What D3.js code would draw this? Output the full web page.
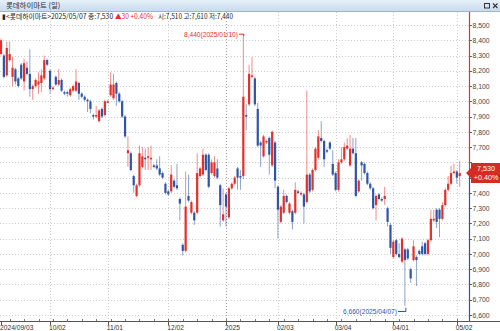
<!DOCTYPE html>
<html>
<head>
<meta charset="utf-8">
<script src="https://cdn.jsdelivr.net/npm/d3@7"></script>
<style>
body { margin: 0; background: #fff; }
svg { display: block; font-family: "Liberation Sans", Arial, sans-serif; }
</style>
</head>
<body>
<svg id="chart" width="500" height="331"></svg>
<script>
// daily candles, 2024/09/03 .. 2025/05/07 (160 trading days)
var opens = [8310,8300,8170,8270,8160,8210,8150,8240,8130,8220,
  8180,8080,8100,8110,8120,8150,8270,8200,8080,8160,
  8110,8140,8060,8060,8040,8070,8070,8120,8050,8030,
  8010,8000,7910,7900,7870,7950,7910,7990,8040,8020,
  8120,8050,8000,7900,7660,7660,7510,7380,7450,7570,
  7630,7630,7620,7580,7580,7560,7530,7460,7410,7410,
  7480,7450,7360,7060,7020,7380,7270,7270,7270,7510,
  7520,7650,7650,7530,7510,7560,7450,7220,7390,7240,
  7430,7460,7560,7510,7510,7910,7980,8160,8150,7950,
  7730,7640,7730,7760,7580,7730,7440,7210,7270,7380,
  7270,7280,7270,7410,7390,7390,7340,7520,7420,7550,
  7630,7760,7740,7680,7730,7590,7530,7420,7600,7620,
  7690,7580,7690,7660,7410,7600,7590,7530,7460,7430,
  7320,7390,7360,7360,7300,7190,6980,7090,7000,6950,
  7030,7030,6900,6960,6980,7020,7050,7070,7000,7090,
  7220,7290,7290,7230,7320,7420,7460,7530,7540,7510];
var highs = [8410,8310,8390,8390,8290,8220,8160,8250,8280,8260,
  8340,8110,8150,8190,8210,8300,8280,8210,8100,8170,
  8210,8150,8070,8070,8090,8110,8210,8130,8060,8040,
  8020,8010,7920,7970,7950,7960,8010,8010,8190,8180,
  8130,8060,8010,7910,7770,7670,7520,7460,7710,7700,
  7690,7700,7710,7590,7620,7640,7540,7470,7420,7580,
  7490,7590,7370,7070,7540,7520,7350,7280,7660,7570,
  7690,7660,7660,7620,7640,7620,7460,7430,7400,7440,
  7470,7510,7570,7550,8440,7980,8240,8290,8160,7990,
  7740,7780,7750,7770,7810,7740,7450,7320,7420,7390,
  7340,7290,7470,7420,7410,7400,8070,7530,7560,7700,
  7810,7870,7750,7690,7740,7680,7540,7620,7700,7730,
  7760,7780,7760,7760,7490,7610,7600,7540,7470,7440,
  7390,7400,7370,7440,7310,7200,7090,7100,7070,7110,
  7040,7040,6910,7090,6990,7030,7080,7080,7100,7290,
  7290,7300,7300,7340,7430,7510,7580,7590,7550,7610];
var lows = [8300,8150,8160,8260,8100,8110,8090,8140,8070,8170,
  8030,8010,8090,8050,8060,8140,8230,8050,8070,8100,
  8100,8060,8040,8030,8030,8060,8060,8010,8020,8000,
  7930,7920,7880,7890,7860,7890,7900,7990,8030,8010,
  7970,7990,7890,7760,7570,7540,7400,7370,7440,7560,
  7550,7550,7550,7560,7550,7510,7490,7390,7380,7400,
  7430,7420,7220,6990,7010,7340,7260,7190,7260,7500,
  7510,7540,7430,7520,7500,7490,7180,7210,7180,7230,
  7420,7450,7420,7420,7490,7810,7970,8150,7970,7700,
  7570,7630,7720,7520,7570,7430,7100,7200,7260,7330,
  7260,7160,7260,7390,7380,7200,7330,7400,7410,7540,
  7620,7730,7570,7660,7680,7510,7410,7410,7590,7610,
  7680,7570,7650,7370,7400,7480,7520,7450,7420,7290,
  7220,7350,7340,7320,7180,7000,6970,6990,6970,6940,
  6660,6960,6810,6950,6790,6990,6990,6990,6990,7080,
  7210,7170,7110,7220,7310,7410,7450,7520,7460,7440];
var closes = [8400,8160,8350,8310,8220,8130,8100,8150,8250,8180,
  8080,8100,8140,8130,8170,8270,8240,8080,8090,8110,
  8140,8070,8050,8050,8080,8100,8130,8050,8030,8010,
  8000,7950,7900,7910,7940,7900,8000,8000,8110,8110,
  8050,8000,7900,7770,7680,7550,7450,7450,7660,7640,
  7620,7640,7630,7570,7560,7520,7500,7400,7390,7520,
  7440,7430,7330,7020,7310,7350,7340,7220,7530,7560,
  7650,7550,7440,7600,7600,7500,7320,7260,7310,7430,
  7460,7500,7500,7500,8030,7900,8180,8170,7980,7710,
  7710,7770,7740,7650,7800,7480,7290,7310,7380,7340,
  7330,7210,7420,7400,7400,7310,7520,7410,7550,7690,
  7770,7740,7620,7670,7690,7520,7420,7600,7620,7700,
  7710,7690,7660,7380,7480,7580,7530,7460,7430,7300,
  7380,7360,7350,7380,7210,7040,7080,7000,6980,7100,
  6960,6970,6840,7050,6960,7000,7000,7000,7090,7230,
  7230,7210,7230,7320,7420,7460,7530,7540,7500,7530];

var tickIndex = [0, 17, 37, 58, 78, 96, 116, 136, 158];
var tickLabels = ['2024/09/03', '10/02', '11/01', '12/02', '2025', '02/03', '03/04', '04/01', '05/02'];
var priceTicks = [6600,6700,6800,6900,7000,7100,7200,7300,7400,7500,7600,7700,7800,7900,8000,8100,8200,8300,8400,8500];

var UP = '#e3302a', DOWN = '#2d56a8';
var plotRight = 469, plotTop = 11, plotBottom = 321;

var svg = d3.select('#chart');
var x = d3.scaleLinear().domain([0, closes.length - 1]).range([1, 459.7]);
var y = d3.scaleLinear().domain([6600, 8500]).range([315, 25]);

// squeeze a text horizontally to a given width (keeps the real bbox honest)
function squeeze(sel, x0, y0, w, anchorEnd) {
    sel.each(function () {
        var n = this.getComputedTextLength();
        var k = Math.min(1, w / n);
        var tx = anchorEnd ? x0 - n * k : x0;
        d3.select(this).attr('x', 0).attr('y', 0).attr('text-anchor', 'start')
            .attr('transform', 'translate(' + tx + ',' + y0 + ') scale(' + k + ',1)');
    });
}

// title bar
var grad = svg.append('defs').append('linearGradient')
    .attr('id', 'tb').attr('x1', 0).attr('y1', 0).attr('x2', 0).attr('y2', 1);
grad.append('stop').attr('offset', '0%').attr('stop-color', '#e6f0f9');
grad.append('stop').attr('offset', '100%').attr('stop-color', '#c8dbee');
svg.append('rect').attr('x', 0).attr('y', 0).attr('width', 500).attr('height', 11).attr('fill', 'url(#tb)');
svg.append('line').attr('x1', 0).attr('x2', 500).attr('y1', 11.5).attr('y2', 11.5).attr('stroke', '#9db5cd');
svg.append('text').attr('x', 6).attr('y', 7.9)
    .style('font-family', '"Noto Sans CJK KR"').style('font-size', '7.4px').attr('fill', '#1d2a3a')
    .text('롯데하이마트 (일)');
svg.append('rect').attr('x', 484.5).attr('y', 3.5).attr('width', 5).attr('height', 4.5)
    .attr('fill', 'none').attr('stroke', '#333');
svg.append('path').attr('d', 'M493,3.5L497.5,8M497.5,3.5L493,8').attr('stroke', '#333').attr('stroke-width', 1.1);

// header line, three pieces
var hdrParts = [
  {x: 2, w: 111, c: '#222', t: '▮<롯데하이마트>2025/05/07 종:7,530'},
  {x: 115, w: 38, c: UP, t: '▲30 +0.40%'},
  {x: 158, w: 75, c: '#222', t: '시:7,510 고:7,610 저:7,440'}
];
svg.append('g').selectAll('text').data(hdrParts).enter().append('text')
    .style('font-family', '"Noto Sans CJK KR"').style('font-size', '7.2px')
    .attr('fill', d => d.c)
    .text(d => d.t)
    .each(function (d) { squeeze(d3.select(this), d.x, 18.7, d.w, false); });

// grid
var grid = svg.append('g');
grid.selectAll('.hg').data(priceTicks).enter().append('line')
    .attr('x1', 0).attr('x2', plotRight)
    .attr('y1', d => Math.round(y(d)) + 0.5).attr('y2', d => Math.round(y(d)) + 0.5)
    .attr('stroke', '#cccccc').attr('stroke-dasharray', '1,2');
grid.selectAll('.vg').data(tickIndex.slice(1)).enter().append('line')
    .attr('x1', d => Math.round(x(d)) + 0.5).attr('x2', d => Math.round(x(d)) + 0.5)
    .attr('y1', plotTop + 1).attr('y2', plotBottom)
    .attr('stroke', (d, i) => tickLabels[i + 1] === '2025' ? '#9a9a9a' : '#cccccc')
    .attr('stroke-dasharray', '1,2');

// candles
svg.append('clipPath').attr('id', 'clip').append('rect')
    .attr('x', 0).attr('y', plotTop + 1).attr('width', plotRight).attr('height', plotBottom - plotTop - 1);
var candles = svg.append('g').attr('clip-path', 'url(#clip)')
    .selectAll('g').data(closes).enter().append('g');
candles.append('line')
    .attr('x1', (d, i) => x(i)).attr('x2', (d, i) => x(i))
    .attr('y1', (d, i) => y(highs[i])).attr('y2', (d, i) => y(lows[i]))
    .attr('stroke', (d, i) => d >= opens[i] ? UP : DOWN)
    .attr('stroke-opacity', 0.55).attr('stroke-width', 1);
candles.append('rect')
    .attr('x', (d, i) => x(i) - 1.1).attr('width', 2.2)
    .attr('y', (d, i) => y(Math.max(d, opens[i])))
    .attr('height', (d, i) => Math.max(1, Math.abs(y(d) - y(opens[i]))))
    .attr('fill', (d, i) => d >= opens[i] ? UP : DOWN);

// high / low marks
var hiIdx = d3.maxIndex(highs), loIdx = d3.minIndex(lows);
var hiY = y(highs[hiIdx]);
svg.append('text').attr('fill', UP).style('font-size', '7.4px')
    .text(d3.format(',')(highs[hiIdx]) + '(2025/01/10)')
    .call(squeeze, 238, hiY + 2.6, 54, true);
svg.append('path').attr('d', 'M239,' + hiY + 'H' + (x(hiIdx) + 0.5) + 'v2')
    .attr('fill', 'none').attr('stroke', UP);
var loY = y(lows[loIdx]);
svg.append('text').attr('fill', DOWN).style('font-size', '7.4px')
    .text(d3.format(',')(lows[loIdx]) + '(2025/04/07)')
    .call(squeeze, 397, 314.3, 54, true);
svg.append('path').attr('d', 'M398,311.5H' + (x(loIdx) + 1) + 'V' + (loY + 2))
    .attr('fill', 'none').attr('stroke', DOWN);

// right price axis
var last = closes[closes.length - 1], lastY = y(last);
svg.append('line').attr('x1', plotRight + 0.5).attr('x2', plotRight + 0.5)
    .attr('y1', plotTop + 1).attr('y2', lastY).attr('stroke', UP).attr('stroke-width', 1.2);
svg.append('line').attr('x1', plotRight + 0.5).attr('x2', plotRight + 0.5)
    .attr('y1', lastY).attr('y2', plotBottom).attr('stroke', DOWN).attr('stroke-width', 1.2);
var shownTicks = priceTicks.filter(d => Math.abs(y(d) - lastY) > 11);
var yAx = svg.append('g');
yAx.selectAll('line').data(priceTicks).enter().append('line')
    .attr('x1', plotRight + 1).attr('x2', plotRight + 3)
    .attr('y1', d => Math.round(y(d)) + 0.5).attr('y2', d => Math.round(y(d)) + 0.5)
    .attr('stroke', '#666');
yAx.selectAll('text').data(shownTicks).enter().append('text')
    .attr('transform', d => 'translate(472.5,' + (y(d) + 2.7) + ') scale(0.9,1)')
    .attr('fill', '#444').style('font-size', '7.6px')
    .text(d => d3.format(',')(d));

// last price box
svg.append('path')
    .attr('d', 'M466,' + lastY + 'L471,' + (lastY - 5) + 'V' + (lastY - 10) + 'H500V' + (lastY + 10) + 'H471V' + (lastY + 5) + 'Z')
    .attr('fill', '#d42b22');
svg.append('text').attr('x', 486).attr('y', lastY - 1.8).attr('text-anchor', 'middle')
    .attr('fill', '#fff').style('font-size', '7.2px').text(d3.format(',')(last));
svg.append('text').attr('x', 486).attr('y', lastY + 7).attr('text-anchor', 'middle')
    .attr('fill', '#fff').style('font-size', '7.2px').text('+0.40%');

// x axis
svg.append('line').attr('x1', 0).attr('x2', 500).attr('y1', plotBottom + 0.5).attr('y2', plotBottom + 0.5)
    .attr('stroke', '#555');
svg.append('g').selectAll('line').data(d3.range(3, closes.length, 5)).enter().append('line')
    .attr('x1', d => Math.round(x(d)) + 0.5).attr('x2', d => Math.round(x(d)) + 0.5)
    .attr('y1', plotBottom - 2).attr('y2', plotBottom)
    .attr('stroke', '#777');
svg.append('g').selectAll('line').data(tickIndex).enter().append('line')
    .attr('x1', d => Math.round(x(d)) + 0.5).attr('x2', d => Math.round(x(d)) + 0.5)
    .attr('y1', plotBottom).attr('y2', plotBottom + 4)
    .attr('stroke', '#555');
svg.append('g').selectAll('text').data(tickIndex).enter().append('text')
    .attr('transform', d => 'translate(' + (x(d) - 1) + ',329.5) scale(0.88,1)')
    .attr('fill', '#333').style('font-size', '7.6px')
    .text((d, i) => tickLabels[i]);
</script>
</body>
</html>
